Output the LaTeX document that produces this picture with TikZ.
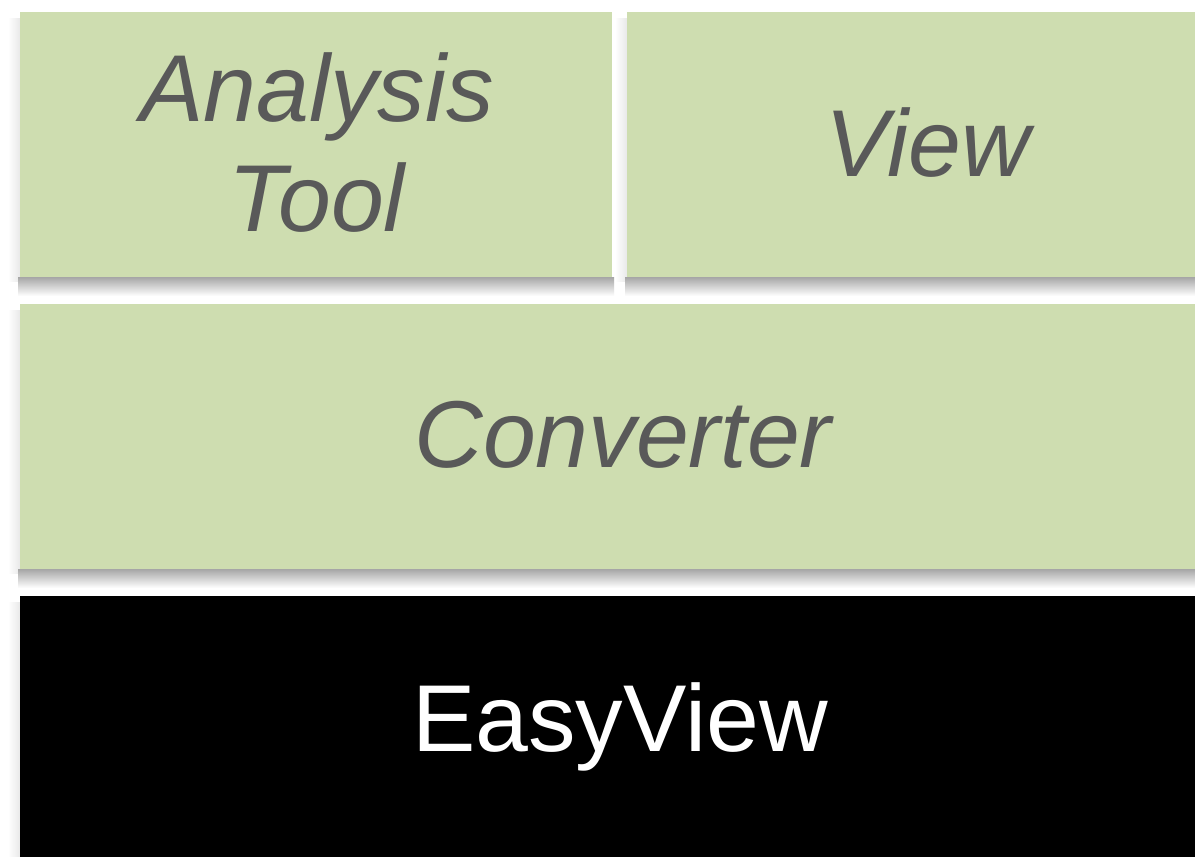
\documentclass[tikz,border=0pt]{standalone}
\usepackage{fontspec}
\setmainfont{Liberation Sans}
\definecolor{boxgreen}{HTML}{CEDDB0}
\definecolor{txtgray}{HTML}{595959}
\tikzset{
  layer/.style={fill=boxgreen, draw=none},
  shadowbottom/.style={top color=black!35, bottom color=white, draw=none},
  shadowside/.style={left color=white, right color=black!9, draw=none},
  layertext/.style={text=txtgray, font=\fontsize{95}{110}\selectfont\itshape, align=center},
}
\begin{document}
\begin{tikzpicture}[x=1pt,y=-1pt]
\useasboundingbox (0,0) rectangle (1195,857);
\clip (0,0) rectangle (1195,857);
\fill[white] (0,0) rectangle (1195,857);
% shadows
\path[shadowside] (8,18) rectangle (20,281);
\path[shadowside] (615,18) rectangle (627,281);
\path[shadowside] (8,310) rectangle (20,573);
\path[shadowside] (8,602) rectangle (20,857);
\path[shadowbottom] (18,277) rectangle (614,296);
\path[shadowbottom] (625,277) rectangle (1225,296);
\path[shadowbottom] (18,569) rectangle (1225,588);
% boxes
\path[layer] (20,12) rectangle (612,277);
\path[layer] (627,12) rectangle (1225,277);
\path[layer] (20,304) rectangle (1225,569);
\path[fill=black] (20,596) rectangle (1225,900);
\node[layertext] (analysis) at (317,143) {Analysis\\Tool};
\node[layertext] (view) at (928,143) {View};
\node[layertext] (converter) at (623,435) {Converter};
\node[text=white, font=\fontsize{95}{110}\selectfont] (easyview) at (620,727) {EasyView};
\end{tikzpicture}
\end{document}
